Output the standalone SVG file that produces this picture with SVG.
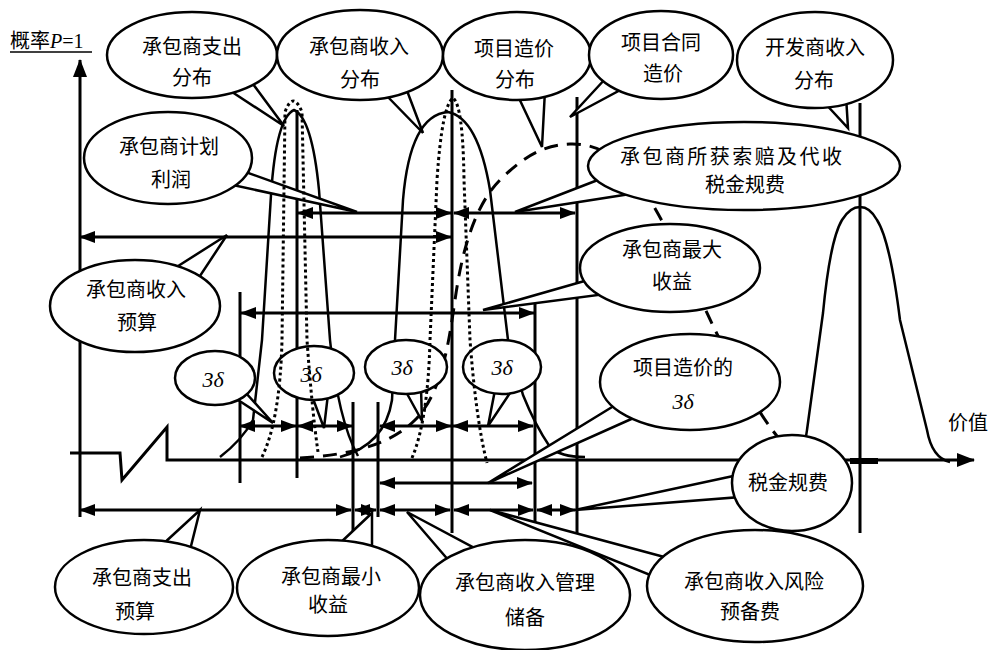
<svg xmlns="http://www.w3.org/2000/svg" width="990" height="650" viewBox="0 0 990 650">
<style>
.ln{stroke:#000;stroke-width:3;fill:none}
.cv{stroke:#000;stroke-width:2.5;fill:none}
.ar{stroke:#000;stroke-width:3;fill:none;marker-start:url(#ah);marker-end:url(#ah)}
.dot{stroke:#000;stroke-width:3;fill:none;stroke-dasharray:3 3}
.dash{stroke:#000;stroke-width:3;fill:none;stroke-dasharray:14 9}
.bub{fill:#fff;stroke:#000;stroke-width:2.5;stroke-linejoin:miter}
.t{font-family:"Liberation Serif","Noto Sans CJK SC",serif;font-size:20px;text-anchor:middle;fill:#000}
.d{font-family:"Liberation Serif",serif;font-style:italic;font-size:22px;text-anchor:middle;fill:#000}
</style>
<defs>
<marker id="ah" viewBox="0 0 16 12" refX="15" refY="6" markerWidth="16" markerHeight="12" markerUnits="userSpaceOnUse" orient="auto-start-reverse"><path d="M0,0 L16,6 L0,12 Z" fill="#000"/></marker>
<marker id="ax" viewBox="0 0 18 14" refX="17" refY="7" markerWidth="18" markerHeight="14" markerUnits="userSpaceOnUse" orient="auto"><path d="M0,0 L18,7 L0,14 Z" fill="#000"/></marker>
</defs>
<rect width="990" height="650" fill="#fff"/>

<g id="axes">
<path class="ln" d="M80,517 V60" marker-end="url(#ax)"/>
<path class="ln" d="M70,453 H120 L122,480 L167,427 V460 H974" marker-end="url(#ax)"/>
<line x1="850" y1="461" x2="878" y2="461" stroke="#000" stroke-width="6"/>
<text x="10" y="48" font-family="Liberation Serif,Noto Sans CJK SC,serif" font-size="20"><tspan font-family="Noto Sans CJK SC,sans-serif">概率</tspan><tspan font-style="italic">P</tspan>=1</text>
<line x1="10" y1="52" x2="92" y2="52" stroke="#000" stroke-width="1.5"/>
<text class="t" x="968" y="430">价值</text>
</g>

<g id="curves">
<path class="cv" d="M220,457 Q242,440 253,420 L262,340 L271,195 Q276,118 294,110 Q312,118 319,190 L330,340 Q338,420 358,456"/>
<path class="cv" d="M340,457 Q385,445 392,400 L395,340 L403,200 Q410,115 448,112 Q478,118 490,190 L508,340 L523,395 Q535,425 550,447 Q560,457 585,457"/>
<path class="cv" d="M795,458 Q806,445 807,430 L823,313 Q830,240 842,220 Q850,207 860,207 Q870,207 877,220 Q890,240 900,320 L927,430 Q932,458 950,462"/>
<path class="dash" d="M300,458 C350,455 390,445 415,420 C440,395 448,350 455,300 C462,250 475,205 500,180 C525,155 545,145 570,144 C600,143 625,160 650,200 C680,250 700,300 720,340 C750,400 775,440 800,460"/>
</g>

<g id="connectors">
<line class="ln" x1="240" y1="292" x2="240" y2="483"/>
<line class="ln" x1="297" y1="110" x2="297" y2="478"/>
<line class="ln" x1="353" y1="402" x2="353" y2="533"/>
<line class="ln" x1="378" y1="402" x2="378" y2="517"/>
<line class="ln" x1="452" y1="90" x2="452" y2="533"/>
<line class="ln" x1="535" y1="303" x2="535" y2="527"/>
<line class="ln" x1="577" y1="97" x2="577" y2="538"/>
<line class="ln" x1="860" y1="103" x2="860" y2="533"/>
<line class="ar" x1="298" y1="213" x2="451" y2="213"/>
<line class="ar" x1="454" y1="213" x2="575" y2="213"/>
<line class="ar" x1="80" y1="237" x2="451" y2="237"/>
<line class="ar" x1="241" y1="313" x2="534" y2="313"/>
<line class="ar" x1="240" y1="426" x2="296" y2="426"/>
<line class="ar" x1="298" y1="426" x2="352" y2="426"/>
<line class="ar" x1="380" y1="426" x2="451" y2="426"/>
<line class="ar" x1="453" y1="426" x2="533" y2="426"/>
<line class="ar" x1="380" y1="483" x2="532" y2="483"/>
<line class="ar" x1="80" y1="510" x2="351" y2="510"/>
<line class="ar" x1="355" y1="510" x2="376" y2="510"/>
<line class="ar" x1="380" y1="510" x2="450" y2="510"/>
<line class="ar" x1="454" y1="510" x2="533" y2="510"/>
<line class="ar" x1="537" y1="510" x2="575" y2="510"/>
</g>

<g id="b1"><path class="bub" d="M226,88 L284,126 L250,80 Z"/><ellipse class="bub" cx="192" cy="55" rx="85" ry="43"/><text class="t" x="192" y="54">承包商支出</text><text class="t" x="192" y="85">分布</text></g>
<g id="b2"><path class="bub" d="M385,94 L423,133 L406,88 Z"/><ellipse class="bub" cx="360" cy="55" rx="83" ry="45"/><text class="t" x="359" y="54">承包商收入</text><text class="t" x="360" y="87">分布</text></g>
<g id="b3"><path class="bub" d="M517,94 L542,147 L545,90 Z"/><ellipse class="bub" cx="517" cy="56" rx="74" ry="44"/><text class="t" x="514" y="56">项目造价</text><text class="t" x="515" y="87">分布</text></g>
<g id="b4"><path class="bub" d="M606,78 L570,117 L624,88 Z"/><ellipse class="bub" cx="661" cy="55" rx="72" ry="44"/><text class="t" x="661" y="50">项目合同</text><text class="t" x="663" y="81">造价</text></g>
<g id="b5"><path class="bub" d="M822,100 L848,128 L846,96 Z"/><ellipse class="bub" cx="815" cy="60" rx="78" ry="48"/><text class="t" x="815" y="55">开发商收入</text><text class="t" x="814" y="88">分布</text></g>
<g id="b6"><path class="bub" d="M240,170 L357,212 L228,184 Z"/><ellipse class="bub" cx="168" cy="158" rx="84" ry="46"/><text class="t" x="169" y="154">承包商计划</text><text class="t" x="171" y="187">利润</text></g>
<g id="b7"><path class="bub" d="M603,178 L515,212 L630,194 Z"/><ellipse class="bub" cx="744" cy="166" rx="156" ry="44"/><text class="t" x="731" y="164" textLength="222" lengthAdjust="spacing">承包商所获索赔及代收</text><text class="t" x="745" y="192">税金规费</text></g>
<g id="b8"><path class="bub" d="M175,268 L227,235 L198,279 Z"/><ellipse class="bub" cx="135" cy="306" rx="85" ry="46"/><text class="t" x="136" y="297">承包商收入</text><text class="t" x="137" y="330">预算</text></g>
<g id="b9"><path class="bub" d="M588,280 L483,310 L606,294 Z"/><ellipse class="bub" cx="670" cy="268" rx="90" ry="44"/><text class="t" x="672" y="257">承包商最大</text><text class="t" x="672" y="289">收益</text></g>
<g id="b10"><path class="bub" d="M617,404 L488,483 L638,416 Z"/><ellipse class="bub" cx="690" cy="382" rx="90" ry="48"/><text class="t" x="683" y="375">项目造价的</text><text class="d" x="683" y="409">3δ</text></g>
<g id="b11"><path class="bub" d="M738,475 L575,510 L740,497 Z"/><ellipse class="bub" cx="792" cy="483" rx="60" ry="48"/><text class="t" x="788" y="490">税金规费</text></g>
<g id="b12"><path class="bub" d="M162,545 L200,510 L190,550 Z"/><ellipse class="bub" cx="144" cy="587" rx="89" ry="47"/><text class="t" x="142" y="585">承包商支出</text><text class="t" x="135" y="619">预算</text></g>
<g id="b13"><path class="bub" d="M338,545 L372,513 L372,550 Z"/><ellipse class="bub" cx="328" cy="588" rx="91" ry="48"/><text class="t" x="331" y="584">承包商最小</text><text class="t" x="328" y="612">收益</text></g>
<g id="b14"><path class="bub" d="M450,562 L407,512 L478,550 Z"/><ellipse class="bub" cx="525" cy="595" rx="105" ry="55"/><text class="t" x="525" y="590">承包商收入管理</text><text class="t" x="525" y="625">储备</text></g>
<g id="b15"><path class="bub" d="M668,558 L490,510 L655,577 Z"/><ellipse class="bub" cx="755" cy="586" rx="108" ry="56"/><text class="t" x="754" y="589">承包商收入风险</text><text class="t" x="750" y="619">预备费</text></g>
<g id="d1"><path class="bub" d="M235,398 L273,423 L245,392 Z"/><ellipse class="bub" cx="215" cy="378" rx="40" ry="27"/><text class="d" x="213" y="387">3δ</text></g>
<g id="d2"><path class="bub" d="M312,396 L324,428 L328,394 Z"/><ellipse class="bub" cx="314" cy="373" rx="40" ry="27"/><text class="d" x="311" y="382">3δ</text></g>
<g id="d3"><path class="bub" d="M405,390 L422,421 L421,388 Z"/><ellipse class="bub" cx="406" cy="367" rx="41" ry="27"/><text class="d" x="402" y="375">3δ</text></g>
<g id="d4"><path class="bub" d="M495,390 L488,426 L512,390 Z"/><ellipse class="bub" cx="502" cy="367" rx="39" ry="27"/><text class="d" x="502" y="375">3δ</text></g>

<g id="dotted">
<path class="dot" d="M262,457 Q280,420 282,340 L285,112 Q293,90 302,112 L307,340 Q312,410 318,452"/>
<path class="dot" d="M412,458 Q428,420 430,340 L437,180 Q442,105 453,98 Q463,105 464,180 L470,340 Q476,420 487,463"/>
</g>
</svg>
